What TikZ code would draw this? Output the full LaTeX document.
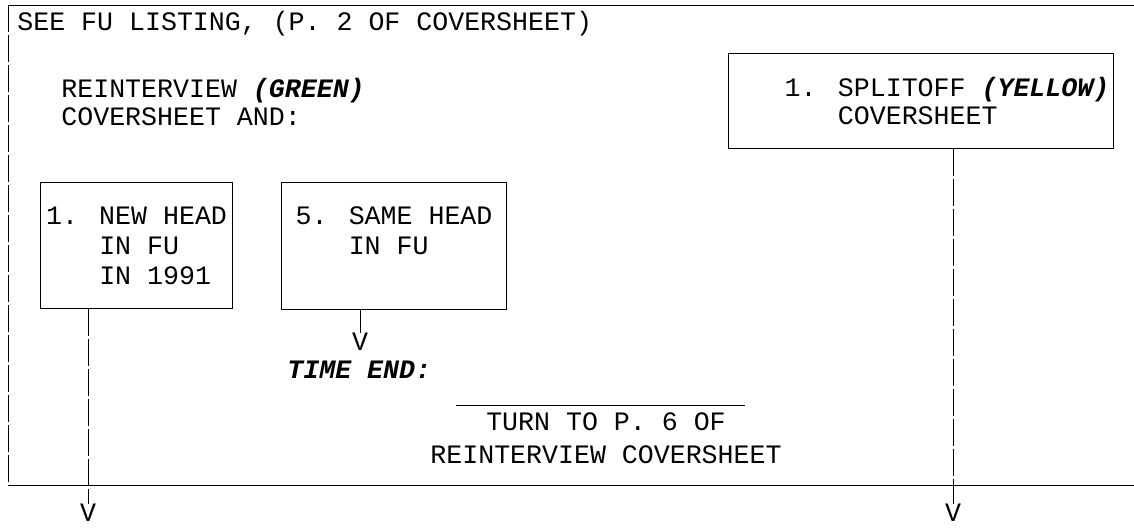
\documentclass[tikz,border=0pt]{standalone}
\usepackage{fontspec}
\setmainfont{Liberation Mono}
\usetikzlibrary{positioning}
\newcommand{\bi}[1]{{\bfseries\itshape #1}}

\begin{document}
\begin{tikzpicture}[
    x=0.5pt, y=-0.5pt,
    txt/.style={inner sep=0pt, anchor=base west, align=left, font=\fontsize{13.3}{15}\selectfont},
    box/.style={draw, line width=0.5pt, anchor=north west, inner sep=0pt, align=left, font=\fontsize{13.3}{15}\selectfont},
    tip/.style={inner sep=0pt, anchor=north, font=\fontsize{13.3}{15}\selectfont},
    rule/.style={line width=0.5pt},
    vline/.style={line width=0.5pt, dash pattern=on 13.5pt off 1.5pt}
]
    \useasboundingbox (0,0) rectangle (1134,527);

    % outer frame, open on the right
    \draw[rule] (8,5) -- (1134,5);
    \draw[rule] (8,485) -- (1134,485);
    \draw[vline] (8,5) -- (8,485);

    \node[txt] (title) at (17,30) {SEE FU LISTING, (P. 2 OF COVERSHEET)};
    \node[txt, font=\fontsize{13.3}{14}\selectfont] (reint) at (61,125) {REINTERVIEW \bi{(GREEN)}\\COVERSHEET AND:};

    \node[box, minimum width=96pt, minimum height=63pt] (nh) at (40,182)
        {1. NEW HEAD\\\phantom{1. }IN FU\\\phantom{1. }IN 1991};
    \node[box, minimum width=112.5pt, minimum height=63.5pt] (sh) at (281,182)
        {5. SAME HEAD\\\phantom{5. }IN FU\\\mbox{}};
    \node[box, minimum width=192.5pt, minimum height=47.5pt, font=\fontsize{13.3}{14}\selectfont] (so) at (728,53)
        {\hspace*{26pt}1. SPLITOFF \bi{(YELLOW)}\\\hspace*{26pt}\phantom{1. }COVERSHEET};

    % arrow tips
    \node[tip] (v1) at (88,504) {V};
    \node[tip] (v2) at (360,333) {V};
    \node[tip] (v3) at (953,504) {V};
    \draw[vline] (v1 |- nh.south) -- (v1.north);
    \draw[vline] (v2 |- sh.south) -- (v2.north);
    \draw[vline] (v3 |- so.south) -- (v3.north);

    \node[txt] (tend) at (287,378) {\bi{TIME END:}};
    \draw[rule] (456,405) -- (745,405);
    \node[txt, align=center, anchor=base, font=\fontsize{13.3}{16.5}\selectfont] (turn) at (606,463)
        {TURN TO P. 6 OF\\REINTERVIEW COVERSHEET};
\end{tikzpicture}
\end{document}
